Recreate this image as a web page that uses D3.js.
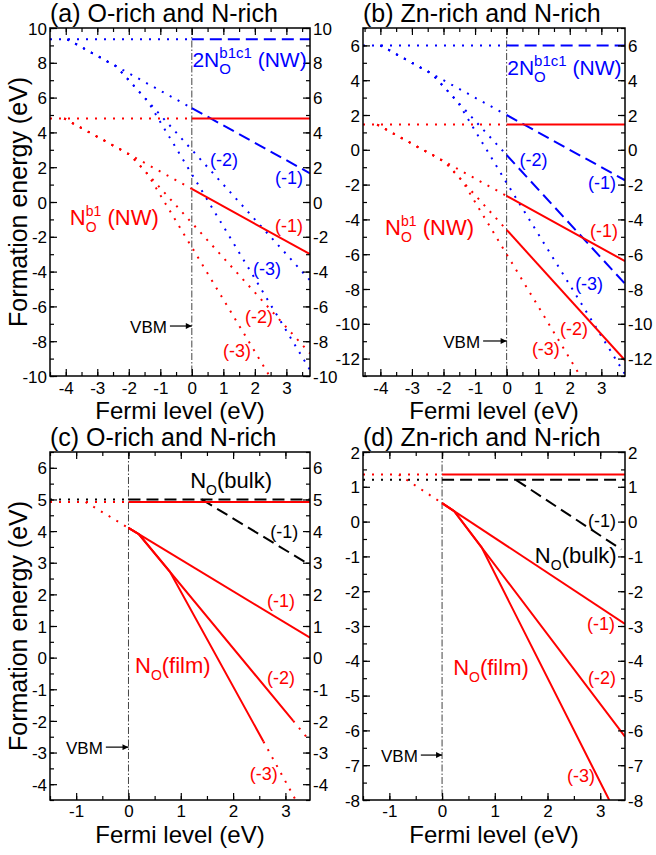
<!DOCTYPE html>
<html><head><meta charset="utf-8">
<script src="https://cdn.jsdelivr.net/npm/d3@7"></script>
<style>
body{margin:0;background:#fff}
svg{display:block}
text{font-family:"Liberation Sans",Arial,Helvetica,sans-serif}
</style>
</head><body>
<svg id="c" width="656" height="855"></svg>
<script>
// ---------------- DATA ----------------
const xTicksAB = [-4,-3,-2,-1,0,1,2,3];
const xTicksCD = [-1,0,1,2,3];
const yTicksA = [-10,-8,-6,-4,-2,0,2,4,6,8,10];
const yTicksB = [-12,-10,-8,-6,-4,-2,0,2,4,6];
const yTicksC = [-4,-3,-2,-1,0,1,2,3,4,5,6];
const yTicksD = [-8,-7,-6,-5,-4,-3,-2,-1,0,1,2];

// panel (a) O-rich: 2N_O^b1c1 (NW) blue, N_O^b1 (NW) red  [Fermi level, formation energy]
const aBlue0L = [[-4.5,9.35],[0,9.35]];
const aBlue0R = [[0,9.35],[3.75,9.35]];
const aBlue1L = [[-3.95,9.35],[0,5.4]];
const aBlue1R = [[0,5.4],[3.75,1.65]];
const aBlue2  = [[-3.95,9.35],[-2.4,7.8],[0,3.0],[3.75,-4.5]];
const aBlue3  = [[-3.95,9.35],[-2.4,7.8],[-1.4,5.8],[0,1.6],[3.75,-9.65]];
const aRed0L  = [[-4.5,4.8],[0,4.8]];
const aRed0R  = [[0,4.8],[3.75,4.8]];
const aRed1L  = [[-4.05,4.8],[0,0.75]];
const aRed1R  = [[0,0.75],[3.75,-3.0]];
const aRed2   = [[-4.05,4.8],[-1.95,2.7],[0,-1.2],[3.75,-8.7]];
const aRed3   = [[-4.05,4.8],[-1.95,2.7],[-1.4,1.6],[0,-2.6],[2.5,-10.1]];

// panel (b) Zn-rich
const bBlue0L = [[-4.55,6.0],[0,6.0]];
const bBlue0R = [[0,6.0],[3.75,6.0]];
const bBlue1L = [[-4.0,6.0],[0,2.0]];
const bBlue1R = [[0,2.0],[3.75,-1.75]];
const bBlue2L = [[-4.0,6.0],[-2.37,4.37],[0,-0.3]];
const bBlue2R = [[0,-0.3],[3.75,-7.7]];
const bBlue3  = [[-4.0,6.0],[-2.37,4.37],[-1.55,2.75],[0,-1.9],[3.75,-12.9]];
const bRed0L  = [[-4.55,1.45],[0,1.45]];
const bRed0R  = [[0,1.45],[3.75,1.45]];
const bRed1L  = [[-4.1,1.45],[0,-2.65]];
const bRed1R  = [[0,-2.65],[3.75,-6.4]];
const bRed2L  = [[-4.1,1.45],[-1.95,-0.7],[0,-4.6]];
const bRed2R  = [[0,-4.6],[3.75,-12.1]];
const bRed3   = [[-4.1,1.45],[-1.95,-0.7],[-1.4,-1.8],[0,-6.0],[2.35,-13.05]];

// panel (c) O-rich: N_O(bulk) black, N_O(film) red
const cBulk0L = [[-1.5,5.0],[0,5.0]];
const cBulk0R = [[0,5.0],[3.47,5.0]];
const cBulk1  = [[1.4,5.0],[3.47,2.93]];
const cFilm0L = [[-1.5,4.92],[0,4.92]];
const cFilm0R = [[0,4.92],[3.47,4.92]];
const cFilm1L = [[-0.82,4.92],[0,4.1]];
const cFilm1R = [[0,4.1],[3.47,0.63]];
const cFilm2  = [[0,4.1],[0.2,3.9],[3.15,-2.0]];
const cFilm2D = [[3.15,-2.0],[3.47,-2.64]];
const cFilm3  = [[0,4.1],[0.2,3.9],[0.79,2.72],[2.58,-2.65]];
const cFilm3D = [[2.58,-2.65],[3.2,-4.51]];

// panel (d) Zn-rich
const dBulk0L = [[-1.5,1.2],[0,1.2]];
const dBulk0R = [[0,1.2],[3.47,1.2]];
const dBulk1  = [[1.4,1.2],[3.4,-0.8]];
const dFilm0L = [[-1.5,1.35],[0,1.35]];
const dFilm0R = [[0,1.35],[3.47,1.35]];
const dFilm1L = [[-0.82,1.35],[0,0.53]];
const dFilm1R = [[0,0.53],[3.47,-2.94]];
const dFilm2  = [[0,0.53],[0.23,0.3],[3.47,-6.18]];
const dFilm3  = [[0,0.53],[0.23,0.3],[0.75,-0.74],[3.17,-8.0]];

// ---------------- DRAWING ----------------
const svg = d3.select('#c');
const RED = '#ff0000', BLUE = '#0000ff', BLACK = '#000000';
const NB = '\u00a0';
const STYLE = {
  dot:   {w:2, dash:'2,7'},
  dash:  {w:2, dash:'12,6'},
  solid: {w:2, dash:null}
};

const defs = svg.append('defs');
defs.append('marker').attr('id','arr').attr('viewBox','0 0 10 10')
  .attr('refX',10).attr('refY',5).attr('markerWidth',8).attr('markerHeight',6)
  .attr('markerUnits','userSpaceOnUse').attr('orient','auto')
  .append('path').attr('d','M0,0 L10,5 L0,10 Z').attr('fill','#000');

function makePanel(cfg){
  const x = d3.scaleLinear().domain(cfg.xd).range([cfg.left,cfg.right]);
  const y = d3.scaleLinear().domain(cfg.yd).range([cfg.bottom,cfg.top]);
  defs.append('clipPath').attr('id','clip'+cfg.id).append('rect')
    .attr('x',cfg.left).attr('y',cfg.top)
    .attr('width',cfg.right-cfg.left).attr('height',cfg.bottom-cfg.top);
  const g = svg.append('g');
  const plot = g.append('g').attr('clip-path',`url(#clip${cfg.id})`);
  plot.append('line').attr('x1',x(0)).attr('x2',x(0)).attr('y1',cfg.top).attr('y2',cfg.bottom)
    .attr('stroke','#444').attr('stroke-width',1).attr('stroke-dasharray','7,2,1.5,2');
  return {x,y,g,plot,cfg};
}

function minorVals(d, step){
  const out=[]; const s=Math.ceil(d[0]/step-1e-9);
  for(let i=s; i*step<=d[1]+1e-9; i++) out.push(+(i*step).toFixed(3));
  return out;
}

function axes(p, xt, yt, yMinor, tickLabelY){
  const {x,y,g,cfg} = p;
  const fmt = d => String(d);
  const style = sel => { sel.select('.domain').remove();
    sel.selectAll('line').attr('stroke','#000').attr('stroke-width',1.2);
    sel.selectAll('text').attr('font-size',17).attr('fill','#000')
      .style('font-family','"Liberation Sans",Arial,Helvetica,sans-serif'); };
  const xm = minorVals(cfg.xd, 0.5), ym = minorVals(cfg.yd, yMinor);
  g.append('g').attr('transform',`translate(0,${cfg.bottom})`)
    .call(d3.axisBottom(x).tickValues(xm).tickSize(-4).tickFormat('')).call(style);
  const bx = g.append('g').attr('transform',`translate(0,${cfg.bottom})`)
    .call(d3.axisBottom(x).tickValues(xt).tickSize(-7).tickFormat(fmt)).call(style);
  bx.selectAll('text').attr('dy',null).attr('y',tickLabelY);
  g.append('g').attr('transform',`translate(0,${cfg.top})`)
    .call(d3.axisTop(x).tickValues(xm).tickSize(-4).tickFormat('')).call(style);
  g.append('g').attr('transform',`translate(0,${cfg.top})`)
    .call(d3.axisTop(x).tickValues(xt).tickSize(-7).tickFormat('')).call(style);
  g.append('g').attr('transform',`translate(${cfg.left},0)`)
    .call(d3.axisLeft(y).tickValues(ym).tickSize(-4).tickFormat('')).call(style);
  const ly = g.append('g').attr('transform',`translate(${cfg.left},0)`)
    .call(d3.axisLeft(y).tickValues(yt).tickSize(-7).tickPadding(3).tickFormat(fmt)).call(style);
  ly.selectAll('text').attr('dy','0.36em');
  g.append('g').attr('transform',`translate(${cfg.right},0)`)
    .call(d3.axisRight(y).tickValues(ym).tickSize(-4).tickFormat('')).call(style);
  const ry = g.append('g').attr('transform',`translate(${cfg.right},0)`)
    .call(d3.axisRight(y).tickValues(yt).tickSize(-7).tickPadding(3).tickFormat(fmt)).call(style);
  ry.selectAll('text').attr('dy','0.36em');
  g.append('rect').attr('x',cfg.left).attr('y',cfg.top)
    .attr('width',cfg.right-cfg.left).attr('height',cfg.bottom-cfg.top)
    .attr('fill','none').attr('stroke','#000').attr('stroke-width',1.5);
  g.append('text').attr('x',cfg.left).attr('y',cfg.top-6).attr('font-size',25).text(cfg.title);
  g.append('text').attr('x',(cfg.left+cfg.right)/2).attr('y',cfg.xlabY).attr('text-anchor','middle')
    .attr('font-size',24).text('Fermi level (eV)');
  if(cfg.ylab){
    g.append('text').attr('transform',`translate(27,${(cfg.top+cfg.bottom)/2}) rotate(-90)`)
      .attr('text-anchor','middle').attr('font-size',25).text('Formation energy (eV)');
  }
}

function line(p, data, color, st){
  const gen = d3.line().x(d=>p.x(d[0])).y(d=>p.y(d[1]));
  const s = STYLE[st];
  p.plot.append('path').datum(data).attr('d',gen).attr('fill','none')
    .attr('stroke',color).attr('stroke-width',s.w)
    .attr('stroke-dasharray',s.dash);
}

function label(p, xd, yd, txt, color, size){
  p.g.append('text').attr('x',p.x(xd)).attr('y',p.y(yd)).attr('fill',color)
    .attr('font-size',size||18).text(txt);
}

function rich(p, xd, yd, parts, color, size, subSize){
  let cx = p.x(xd); const y0 = p.y(yd);
  parts.forEach(pt=>{
    if(pt.t!==undefined){
      const t = p.g.append('text').attr('x',cx).attr('y',y0).attr('fill',color)
        .attr('font-size',size).text(pt.t);
      cx += t.node().getComputedTextLength();
    } else {
      let w = 0;
      if(pt.sup){ const t = p.g.append('text').attr('x',cx).attr('y',y0-size*0.42)
        .attr('fill',color).attr('font-size',subSize).text(pt.sup);
        w = Math.max(w,t.node().getComputedTextLength()); }
      if(pt.sub){ const t = p.g.append('text').attr('x',cx).attr('y',y0+size*0.33)
        .attr('fill',color).attr('font-size',subSize).text(pt.sub);
        w = Math.max(w,t.node().getComputedTextLength()); }
      cx += w;
    }
  });
}

function vbm(p, xd, yd){
  const x0 = p.x(0), yy = p.y(yd);
  p.g.append('text').attr('x',p.x(xd)).attr('y',yy).attr('text-anchor','end')
    .attr('font-size',17).text('VBM');
  p.g.append('line').attr('x1',p.x(xd)+3).attr('x2',x0).attr('y1',yy-7).attr('y2',yy-7)
    .attr('stroke','#000').attr('stroke-width',1.2).attr('marker-end','url(#arr)');
}

// ----- panel (a)
const A = makePanel({id:'a',left:50,right:310,top:28,bottom:376,xd:[-4.5,3.75],yd:[-10,10],
  title:'(a) O-rich and N-rich', xlabY:419, ylab:true});
line(A,aBlue0L,BLUE,'dot'); line(A,aBlue0R,BLUE,'dash');
line(A,aBlue1L,BLUE,'dot'); line(A,aBlue1R,BLUE,'dash');
line(A,aBlue2,BLUE,'dot');  line(A,aBlue3,BLUE,'dot');
line(A,aRed0L,RED,'dot');   line(A,aRed0R,RED,'solid');
line(A,aRed1L,RED,'dot');   line(A,aRed1R,RED,'solid');
line(A,aRed2,RED,'dot');    line(A,aRed3,RED,'dot');
axes(A, xTicksAB, yTicksA, 1, 17.5);
rich(A, 0.02, 7.76, [{t:'2N'},{sup:'b1c1',sub:'O'},{t:NB+'(NW)'}], BLUE, 21, 15);
label(A, 0.58, 2.07, '(-2)', BLUE);
label(A, 2.64, 1.03, '(-1)', BLUE);
rich(A, -3.87, -1.32, [{t:'N'},{sup:'b1',sub:'O'},{t:NB+'(NW)'}], RED, 22, 14);
label(A, 2.64, -1.72, '(-1)', RED);
label(A, 1.94, -4.2, '(-3)', BLUE);
label(A, 1.69, -6.95, '(-2)', RED);
label(A, 0.99, -8.9, '(-3)', RED);
vbm(A, -0.79, -7.53);

// ----- panel (b)
const B = makePanel({id:'b',left:363,right:625,top:28,bottom:376,xd:[-4.55,3.75],yd:[-13,7],
  title:'(b) Zn-rich and N-rich', xlabY:419, ylab:false});
line(B,bBlue0L,BLUE,'dot'); line(B,bBlue0R,BLUE,'dash');
line(B,bBlue1L,BLUE,'dot'); line(B,bBlue1R,BLUE,'dash');
line(B,bBlue2L,BLUE,'dot'); line(B,bBlue2R,BLUE,'dash');
line(B,bBlue3,BLUE,'dot');
line(B,bRed0L,RED,'dot');   line(B,bRed0R,RED,'solid');
line(B,bRed1L,RED,'dot');   line(B,bRed1R,RED,'solid');
line(B,bRed2L,RED,'dot');   line(B,bRed2R,RED,'solid');
line(B,bRed3,RED,'dot');
axes(B, xTicksAB, yTicksB, 1, 17.5);
rich(B, 0.02, 4.3, [{t:'2N'},{sup:'b1c1',sub:'O'},{t:NB+'(NW)'}], BLUE, 21, 15);
label(B, 0.41, -0.93, '(-2)', BLUE);
label(B, 2.58, -2.25, '(-1)', BLUE);
rich(B, -3.85, -4.9, [{t:'N'},{sup:'b1',sub:'O'},{t:NB+'(NW)'}], RED, 22, 14);
label(B, 2.64, -5.0, '(-1)', RED);
label(B, 2.17, -8.06, '(-3)', BLUE);
label(B, 1.69, -10.64, '(-2)', RED);
label(B, 0.8, -11.79, '(-3)', RED);
vbm(B, -0.84, -11.39);

// ----- panel (c)
const C = makePanel({id:'c',left:50,right:310,top:452,bottom:800,xd:[-1.5,3.47],yd:[-4.5,6.5],
  title:'(c) O-rich and N-rich', xlabY:843, ylab:true});
line(C,cBulk0L,BLACK,'dot'); line(C,cBulk0R,BLACK,'dash'); line(C,cBulk1,BLACK,'dash');
line(C,cFilm0L,RED,'dot');   line(C,cFilm0R,RED,'solid');
line(C,cFilm1L,RED,'dot');   line(C,cFilm1R,RED,'solid');
line(C,cFilm2,RED,'solid');  line(C,cFilm2D,RED,'dot');
line(C,cFilm3,RED,'solid');  line(C,cFilm3D,RED,'dot');
axes(C, xTicksCD, yTicksC, 0.5, 17);
rich(C, 1.18, 5.36, [{t:'N'},{sub:'O'},{t:'(bulk)'}], BLACK, 22, 14);
label(C, 2.71, 3.78, '(-1)', BLACK);
label(C, 2.65, 1.6, '(-1)', RED);
rich(C, 0.125, -0.48, [{t:'N'},{sub:'O'},{t:'(film)'}], RED, 22, 14);
label(C, 2.65, -0.83, '(-2)', RED);
label(C, 2.32, -3.87, '(-3)', RED);
vbm(C, -0.49, -3.05);

// ----- panel (d)
const D = makePanel({id:'d',left:363,right:625,top:452,bottom:800,xd:[-1.5,3.47],yd:[-8,2],
  title:'(d) Zn-rich and N-rich', xlabY:843, ylab:false});
line(D,dBulk0L,BLACK,'dot'); line(D,dBulk0R,BLACK,'dash'); line(D,dBulk1,BLACK,'dash');
line(D,dFilm0L,RED,'dot');   line(D,dFilm0R,RED,'solid');
line(D,dFilm1L,RED,'dot');   line(D,dFilm1R,RED,'solid');
line(D,dFilm2,RED,'solid');  line(D,dFilm3,RED,'solid');
axes(D, xTicksCD, yTicksD, 0.5, 17);
label(D, 2.77, -0.16, '(-1)', BLACK);
rich(D, 1.76, -1.19, [{t:'N'},{sub:'O'},{t:'(bulk)'}], BLACK, 22, 14);
label(D, 2.75, -3.11, '(-1)', RED);
rich(D, 0.21, -4.41, [{t:'N'},{sub:'O'},{t:'(film)'}], RED, 22, 14);
label(D, 2.77, -4.67, '(-2)', RED);
label(D, 2.37, -7.48, '(-3)', RED);
vbm(D, -0.46, -6.91);
</script>
</body></html>
